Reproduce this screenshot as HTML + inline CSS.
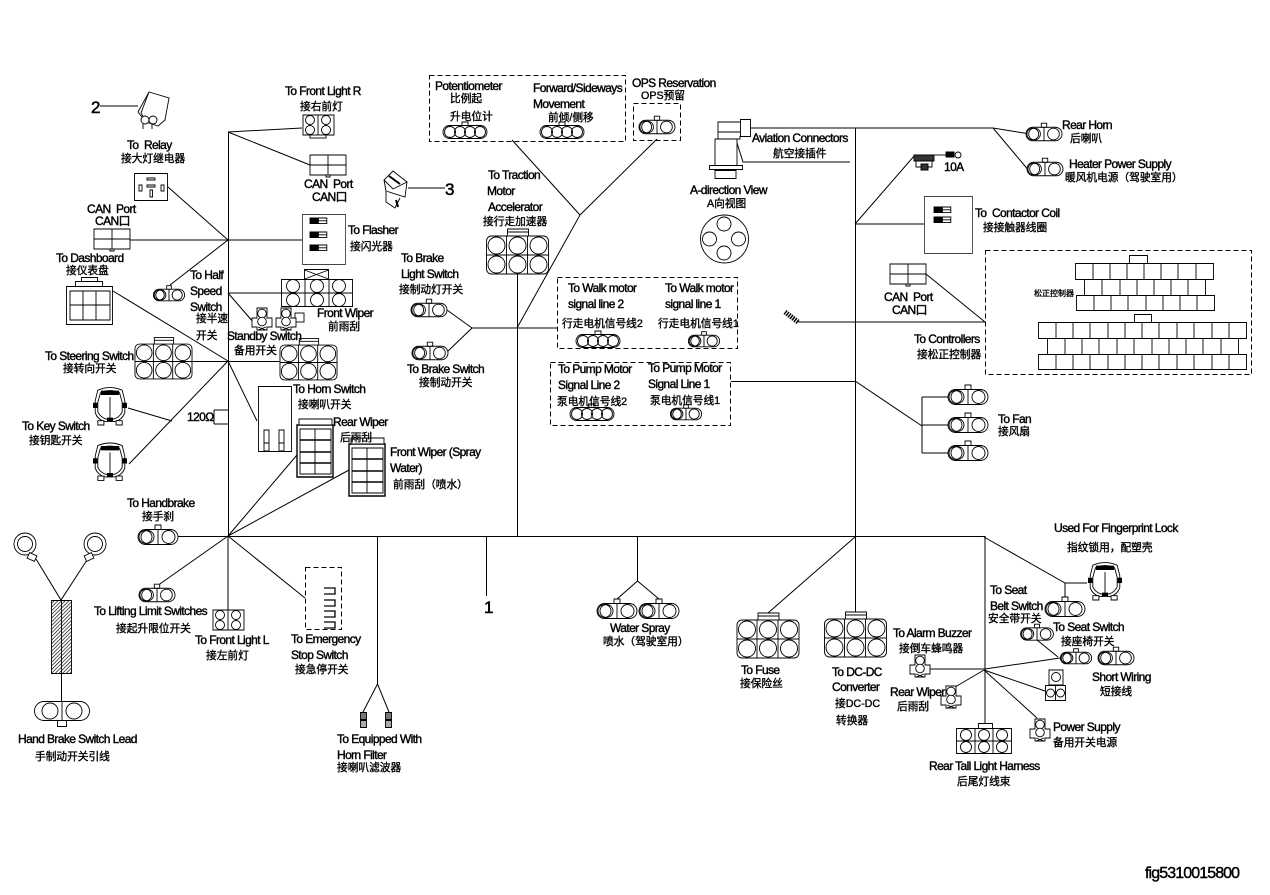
<!DOCTYPE html>
<html><head><meta charset="utf-8"><title>Wiring diagram</title>
<style>
html,body{margin:0;padding:0;background:#fff;width:1270px;height:895px;overflow:hidden}
svg{display:block}
.w{fill:none;stroke:#000;stroke-width:1}
.g line,.g path,.g rect,.g circle,.g polyline{vector-effect:non-scaling-stroke}
.g{fill:#fff;stroke:#000;stroke-width:.9}
.d{fill:none;stroke:#000;stroke-width:1;stroke-dasharray:5 3}
text{font-family:"Liberation Sans","Noto Sans CJK SC",sans-serif;fill:#000;stroke:#000;white-space:pre}
.e{font-size:12px;letter-spacing:-.6px;stroke-width:.4}
.c{font-size:10.7px;letter-spacing:0;stroke-width:.35}
.n{font-size:17px;stroke-width:.5}
</style></head><body>
<svg width="1270" height="895" viewBox="0 0 1270 895" xmlns="http://www.w3.org/2000/svg">
<defs>
<pattern id="h" patternUnits="userSpaceOnUse" width="2.6" height="2.6" patternTransform="rotate(45)"><rect width="2.6" height="2.6" fill="#fff"/><line x1="0" y1="0" x2="0" y2="2.6" stroke="#000" stroke-width="1.3"/></pattern>
<g id="c2" class="g"><rect x="-20" y="-7.5" width="40" height="15" rx="7.5"/><circle cx="-12.5" cy="0" r="6.5" fill="none"/><circle cx="-10.5" cy="0" r="6.5" fill="none"/><circle cx="10.5" cy="0" r="6.5" fill="none"/><line x1="0" y1="-7.5" x2="0" y2="7.5"/><rect x="-3" y="-12" width="6" height="4.5"/></g>
<g id="c4" class="g"><rect x="-22" y="-6.5" width="44" height="13" rx="6.5"/><circle cx="-15" cy="0" r="5.5" fill="none"/><circle cx="-5" cy="0" r="5.5" fill="none"/><circle cx="5" cy="0" r="5.5" fill="none"/><circle cx="15" cy="0" r="5.5" fill="none"/><rect x="-3" y="-10" width="6" height="3.5"/></g>
<g id="c6" class="g"><rect x="-31" y="-19" width="62" height="38" rx="5"/><line x1="-31" y1="0" x2="31" y2="0"/><line x1="-11" y1="-19" x2="-11" y2="19"/><line x1="10" y1="-19" x2="10" y2="19"/><circle cx="-21" cy="-9.5" r="8.5"/><circle cx="0" cy="-9.5" r="8.5"/><circle cx="21" cy="-9.5" r="8.5"/><circle cx="-21" cy="9.5" r="8.5"/><circle cx="0" cy="9.5" r="8.5"/><circle cx="21" cy="9.5" r="8.5"/><rect x="-10" y="-26" width="21" height="7"/><line x1="-10" y1="-23" x2="11" y2="-23"/></g>
<g id="k" class="g"><path d="M-14 -20 Q0 -26 14 -20 L17 -8 L17 6 Q14 14 6 16 L-6 16 Q-14 14 -17 6 L-17 -8 Z"/><path d="M-11 -17 Q0 -22 11 -17 L14 -6 L14 5 Q11 11 5 13 L-5 13 Q-11 11 -14 5 L-14 -6 Z" fill="none"/><rect x="-10" y="-19" width="20" height="4" fill="#000"/><line x1="0" y1="-12" x2="0" y2="14"/><rect x="-19" y="-5" width="4" height="5" fill="#000"/><rect x="15" y="-5" width="4" height="5" fill="#000"/><rect x="-14" y="15" width="7" height="5"/><rect x="7" y="15" width="7" height="5"/><rect x="-3" y="12" width="6" height="3" fill="#000"/></g>
<g id="v2" class="g"><path d="M-5 -11 H5 V-1 H10 V8 H5 V11 H-5 V8 H-10 V-1 H-5 Z"/><circle cx="0" cy="-5.5" r="4.3"/><circle cx="0" cy="2.5" r="4.3"/><path d="M-4 11 L4 8 M4 11 L-4 8"/></g>
<g id="t" class="g"><rect x="0" y="0" width="6" height="4" fill="#000"/><rect x="6" y="0" width="6" height="4"/><line x1="6" y1="2" x2="12" y2="2"/></g>
<g id="q" class="g"><rect x="-15" y="-10" width="31" height="20"/><line x1="0" y1="-10" x2="0" y2="10"/><circle cx="-8" cy="-5" r="4.5"/><circle cx="8" cy="-5" r="4.5"/><circle cx="-8" cy="5" r="4.5"/><circle cx="8" cy="5" r="4.5"/></g>
<g id="can" class="g"><rect x="-18" y="-10" width="36" height="20"/><line x1="-18" y1="0" x2="18" y2="0"/><line x1="0" y1="-10" x2="0" y2="10"/><rect x="-2" y="10" width="4" height="2"/></g>
<g id="wp" class="g"><rect x="-18" y="-26" width="36" height="52" stroke-width="1.4"/><rect x="-15" y="-22" width="31" height="45"/><line x1="0" y1="-22" x2="0" y2="23"/><path d="M-15 -11H16M-15 1H16M-15 12H16" stroke-width="1.4"/><rect x="-16" y="-32" width="33" height="6"/></g>
</defs>

<!-- wires -->
<g class="w">
<path d="M228.5 132V537M178 536.5H985M517.5 274V536M855.5 128V536M750 128H993M985 536V723"/>
<path d="M130 240H302M168 187L228 240M170 285L228 240M228 132L302 128M228 132L310 165"/>
<path d="M228 293H281M228 293L254 323M192 361.5H280M113 291L228 361M228 361L257 421M228 361L129 464M128 408L172 421"/>
<path d="M214 410H228M214 424H228M214 410V424"/>
<path d="M297 455L228 536M349 470L228 536M157 586L228 536M228 536V610M228 536L305 598"/>
<path d="M377.5 536V684L363 712M377.5 684L389 712M486.5 536V596M637.5 536V581L617 599M637.5 581L659 599M855 537L768 613M855.5 536V613"/>
<path d="M447 310L472 328L447 352M472 328H557M517 328L580 215L512 140M580 215L657 139"/>
<path d="M731 381.5H855M855 381L922 426M922 397V453M922 397H948M922 425H948M922 453H948"/>
<path d="M798 322H985M926 274L985 322M855 224H924M855 224L915 155"/>
<path d="M737 143L743 162H850M993 128L1030 134M993 128L1030 172"/>
<path d="M984 537L1065 583H1087M1065 583V597M930 669H985L1060 658M984 670L950 690M984 670L1045 691M984 670L1037 718M1037 640L1058 657"/>
<path d="M100 106H138M408 188H445M36 559L61 600L87 560M61.5 673V705"/>
</g>

<!-- dashed boxes -->
<rect class="d" x="429.5" y="75.5" width="196" height="66"/>
<rect class="d" x="633.5" y="103.5" width="47" height="37"/>
<rect class="d" x="557.5" y="277.5" width="180" height="71"/>
<rect class="d" x="550.5" y="362.5" width="180" height="63"/>
<rect class="d" x="985.5" y="250.5" width="266" height="124"/>
<rect class="d" x="305.5" y="567.5" width="36" height="62"/>

<!-- relay, symbols 2 and 3 -->
<g class="g"><path d="M149 92L169 98L165 120L158 126L146 122L138 112Z"/><path d="M149 92L141 113L146 122"/><circle cx="145" cy="120" r="4"/><circle cx="153" cy="120" r="4"/><path d="M143 124V129M152 124V129"/></g>
<g class="g"><path d="M393 171L407 182L405 197L386 191L384 180Z"/><path d="M384 180L393 189L407 182M386 191V202L395 208L400 198"/><path d="M389 176L400 184M396 200L398 207" stroke-width="2"/></g>
<g class="g"><rect x="134.5" y="173.5" width="33" height="27"/><rect x="147" y="178" width="8" height="2"/><rect x="147" y="185" width="8" height="2"/><rect x="139" y="185" width="3" height="6"/><rect x="161" y="185" width="3" height="6"/><rect x="150" y="190" width="2.5" height="7"/></g>

<use href="#can" x="112" y="239"/>
<use href="#can" x="328" y="165"/>
<use href="#can" x="908" y="274"/>
<use href="#q" x="318" y="125"/><rect class="g" x="310" y="135" width="16" height="3"/>
<use href="#q" x="228" y="620"/>

<!-- flasher -->
<g class="g"><rect x="302.5" y="214.5" width="43" height="50" stroke="#444"/></g>
<use href="#t" transform="translate(310 218) scale(1.4)"/><use href="#t" transform="translate(310 232) scale(1.4)"/><use href="#t" transform="translate(310 245) scale(1.4)"/>
<!-- dashboard -->
<g class="g"><rect x="66.5" y="286.5" width="46" height="38"/><rect x="70" y="291" width="40" height="29"/><path d="M70 305H110M83 291V320M96 291V320"/><rect x="75.5" y="281.5" width="27" height="5"/><rect x="81.5" y="277.5" width="16" height="4"/></g>
<use href="#c2" transform="translate(169 295) scale(.78)"/>
<!-- front wiper 6 -->
<g class="g"><rect x="281.5" y="279.5" width="71" height="27"/><path d="M305 279.5V306.5M329 279.5V306.5M281.5 293H352"/><circle cx="293" cy="286" r="6.5"/><circle cx="293" cy="300" r="6.5"/><circle cx="317" cy="286" r="6.5"/><circle cx="317" cy="300" r="6.5"/><circle cx="339" cy="286" r="6.5"/><circle cx="339" cy="300" r="6.5"/><rect x="304.5" y="269.5" width="24" height="10"/><path d="M304.5 270L328.5 279M328.5 270L304.5 279"/></g>
<rect class="g" x="295" y="313" width="9" height="9"/>
<use href="#v2" x="262" y="319"/><use href="#v2" x="286" y="319"/>
<use href="#c6" transform="translate(163.5 361.5) scale(.92)"/>
<use href="#c6" transform="translate(308.5 362.5) scale(.92)"/>
<use href="#k" transform="translate(110 407.6) scale(.87)"/><use href="#k" transform="translate(110 463) scale(.87)"/>
<!-- horn switch -->
<g class="g"><rect x="258.5" y="386.5" width="33" height="65"/><rect x="264" y="430" width="5" height="21"/><rect x="279" y="430" width="5" height="21"/><path d="M264 443H269M279 443H284"/></g>
<use href="#wp" x="315" y="451"/>
<use href="#wp" x="367" y="470"/>
<use href="#c2" x="158" y="537"/>
<use href="#c2" transform="translate(157 595) scale(.9)"/>
<!-- hand brake -->
<g class="g"><circle cx="25" cy="544" r="11"/><circle cx="25" cy="544" r="7.5"/><circle cx="95" cy="544" r="11"/><circle cx="95" cy="544" r="7.5"/><rect x="28" y="554" width="8" height="6" transform="rotate(25 32 557)"/><rect x="85" y="554" width="8" height="6" transform="rotate(-25 89 557)"/>
<rect x="51.5" y="600.5" width="20" height="73" fill="url(#h)"/><line x1="61.5" y1="600" x2="61.5" y2="673"/>
<rect x="34.5" y="701.5" width="55" height="19" rx="9.5"/><circle cx="50" cy="711" r="8"/><circle cx="74" cy="711" r="8"/><line x1="62" y1="701" x2="62" y2="721"/><rect x="57.5" y="720.5" width="9" height="6"/></g>
<!-- emergency -->
<g class="w"><path d="M324 588H335V594H324M324 600H335V606H324M324 611H335V617H324M324 622H335V628H324" stroke-width="1.3"/></g>
<!-- horn filter terminals -->
<g class="g"><rect x="360.5" y="712.5" width="6" height="7" fill="#777"/><rect x="360.5" y="720.5" width="6" height="7" fill="#aaa"/><rect x="385.5" y="712.5" width="6" height="7" fill="#777"/><rect x="385.5" y="720.5" width="6" height="7" fill="#aaa"/></g>
<!-- top middle -->
<use href="#c4" x="465" y="132"/><use href="#c4" x="562" y="132"/><use href="#c2" transform="translate(657 127) scale(.9)"/>
<use href="#c6" x="517.5" y="255"/>
<use href="#c2" transform="translate(429 310) scale(.9)"/><use href="#c2" transform="translate(430 353) scale(.9)"/>
<use href="#c4" x="598" y="341"/><use href="#c2" transform="translate(704 341) scale(.78)"/>
<use href="#c4" x="592" y="414"/><use href="#c2" transform="translate(686 414) scale(.78)"/>
<!-- aviation -->
<g class="g"><rect x="740.5" y="119.5" width="10" height="17"/><path d="M740 122H718V139H740V136"/><path d="M718 132H740"/><path d="M715 139H737V167H715Z"/><rect x="709.5" y="165.5" width="33" height="4"/><rect x="715" y="170.5" width="21" height="8"/><circle cx="724.5" cy="239" r="24"/><circle cx="724" cy="224" r="7"/><circle cx="709.5" cy="239" r="7"/><circle cx="738.5" cy="239" r="7"/><circle cx="724" cy="253" r="7"/></g>
<!-- right top -->
<use href="#c2" transform="translate(1044 134) scale(.9)"/><use href="#c2" transform="translate(1045 169) scale(.9)"/>
<g class="g"><rect x="914" y="155" width="20" height="6" fill="#333"/><rect x="916" y="161" width="16" height="6"/><rect x="921" y="164" width="7" height="6" fill="#333"/><line x1="934" y1="155" x2="946" y2="155"/><rect x="946" y="152" width="8" height="5" fill="#000"/><circle cx="958" cy="155" r="3"/></g>
<g class="g"><rect x="924.5" y="196.5" width="48" height="57" stroke="#444"/></g>
<use href="#t" transform="translate(934 207) scale(1.4)"/><use href="#t" transform="translate(934 217) scale(1.4)"/>
<!-- controllers -->
<g class="g">
<rect x="1129.5" y="255.5" width="18" height="8"/><rect x="1134.5" y="314.5" width="17" height="8"/>
<rect x="1075.5" y="263.5" width="138" height="16"/><path d="M1093 263V279M1110 263V279M1127 263V279M1144 263V279M1161 263V279M1178 263V279M1196 263V279"/>
<rect x="1084.5" y="279.5" width="121" height="16"/><path d="M1102 279V295M1120 279V295M1137 279V295M1154 279V295M1171 279V295M1188 279V295"/>
<rect x="1076.5" y="295.5" width="138" height="15"/><path d="M1094 295V310M1111 295V310M1128 295V310M1146 295V310M1163 295V310M1180 295V310M1197 295V310"/>
<rect x="1038.5" y="322.5" width="208" height="16"/><path d="M1056 322V338M1073 322V338M1090 322V338M1108 322V338M1125 322V338M1142 322V338M1159 322V338M1177 322V338M1194 322V338M1212 322V338M1229 322V338"/>
<rect x="1047.5" y="338.5" width="191" height="16"/><path d="M1065 338V354M1082 338V354M1099 338V354M1117 338V354M1134 338V354M1152 338V354M1169 338V354M1186 338V354M1203 338V354M1221 338V354"/>
<rect x="1038.5" y="354.5" width="208" height="15"/><path d="M1056 354V369M1073 354V369M1090 354V369M1108 354V369M1125 354V369M1142 354V369M1159 354V369M1177 354V369M1194 354V369M1212 354V369M1229 354V369"/>
</g>
<use href="#c2" x="968" y="397"/><use href="#c2" x="968" y="425"/><use href="#c2" x="968" y="453"/>
<!-- bottom middle -->
<use href="#c2" x="617" y="611"/><use href="#c2" x="659" y="611"/>
<use href="#c6" x="768" y="639"/><use href="#c6" x="855.5" y="638"/>
<!-- bottom right -->
<use href="#k" transform="translate(1105 582.6) scale(.87)"/>
<use href="#c2" x="1065" y="609"/><use href="#c2" transform="translate(1037 634) scale(.82)"/>
<use href="#c2" transform="translate(1076 658) scale(.78)"/><use href="#c2" transform="translate(1116 658) scale(.9)"/>
<use href="#v2" x="920" y="666"/><use href="#v2" x="951" y="697"/><use href="#v2" x="1040" y="730"/>
<g class="g"><rect x="1045.5" y="685.5" width="20" height="15"/><line x1="1055.5" y1="685" x2="1055.5" y2="700"/><circle cx="1050.5" cy="693" r="4"/><circle cx="1060.5" cy="693" r="4"/><rect x="1049" y="670" width="14" height="15"/><circle cx="1056" cy="677" r="4.5"/></g>
<g class="g"><rect x="956.5" y="728.5" width="55" height="25"/><path d="M975 728V753M993 728V753M956 741H1011"/><circle cx="966" cy="735" r="5.5"/><circle cx="984" cy="735" r="5.5"/><circle cx="1002" cy="735" r="5.5"/><circle cx="966" cy="747" r="5.5"/><circle cx="984" cy="747" r="5.5"/><circle cx="1002" cy="747" r="5.5"/><rect x="978.5" y="723.5" width="14" height="5"/></g>
<g class="w"><path d="M798 322L785 312" stroke-width="5" stroke-dasharray="1.5 1"/></g>

<!-- labels -->
<text class="n" x="91" y="113">2</text>
<text class="n" x="445" y="195">3</text>
<text class="n" x="484" y="613">1</text>
<text class="e" x="127" y="149">To  Relay</text><text class="c" x="121" y="162">接大灯继电器</text>
<text class="e" x="87" y="213">CAN  Port</text><text class="e" x="95" y="225">CAN口</text>
<text class="e" x="56" y="262">To Dashboard</text><text class="c" x="66" y="274">接仪表盘</text>
<text class="e" x="190" y="279">To Half</text><text class="e" x="190" y="295">Speed</text><text class="e" x="190" y="311">Switch</text><text class="c" x="196" y="322">接半速</text><text class="c" x="196" y="339">开关</text>
<text class="e" x="227" y="340">Standby Switch</text><text class="c" x="234" y="354">备用开关</text>
<text class="e" x="45" y="360">To Steering Switch</text><text class="c" x="63" y="372">接转向开关</text>
<text class="e" x="317" y="317">Front Wiper</text><text class="c" x="328" y="330">前雨刮</text>
<text class="e" x="285" y="95">To Front Light R</text><text class="c" x="300" y="110">接右前灯</text>
<text class="e" x="304" y="188">CAN  Port</text><text class="e" x="312" y="201">CAN口</text>
<text class="e" x="348" y="234">To Flasher</text><text class="c" x="350" y="250">接闪光器</text>
<text class="e" x="293" y="393">To Horn Switch</text><text class="c" x="298" y="408">接喇叭开关</text>
<text class="e" x="187" y="421">120Ω</text>
<text class="e" x="333" y="426">Rear Wiper</text><text class="c" x="340" y="441">后雨刮</text>
<text class="e" x="390" y="456">Front Wiper (Spray</text><text class="e" x="390" y="472">Water)</text><text class="c" x="393" y="488">前雨刮（喷水）</text>
<text class="e" x="22" y="430">To Key Switch</text><text class="c" x="29" y="444">接钥匙开关</text>
<text class="e" x="127" y="507">To Handbrake</text><text class="c" x="142" y="520">接手刹</text>
<text class="e" x="94" y="615">To Lifting Limit Switches</text><text class="c" x="116" y="632">接起升限位开关</text>
<text class="e" x="195" y="644">To Front Light L</text><text class="c" x="206" y="659">接左前灯</text>
<text class="e" x="291" y="643">To Emergency</text><text class="e" x="291" y="659">Stop Switch</text><text class="c" x="295" y="673">接急停开关</text>
<text class="e" x="337" y="743">To Equipped With</text><text class="e" x="337" y="759">Horn Filter</text><text class="c" x="337" y="771">接喇叭滤波器</text>
<text class="e" x="18" y="743">Hand Brake Switch Lead</text><text class="c" x="35" y="760">手制动开关引线</text>
<text class="e" x="435" y="90">Potentiometer</text><text class="c" x="450" y="102">比例起</text><text class="c" x="450" y="120">升电位计</text>
<text class="e" x="533" y="92">Forward/Sideways</text><text class="e" x="533" y="108">Movement</text><text class="c" x="548" y="121">前倾/侧移</text>
<text class="e" x="632" y="87">OPS Reservation</text><text class="c" x="641" y="99">OPS预留</text>
<text class="e" x="752" y="142">Aviation Connectors</text><text class="c" x="773" y="157">航空接插件</text>
<text class="e" x="690" y="194">A-direction View</text><text class="c" x="707" y="207">A向视图</text>
<text class="e" x="488" y="179">To Traction</text><text class="e" x="487" y="195">Motor</text><text class="e" x="488" y="211">Accelerator</text><text class="c" x="483" y="225">接行走加速器</text>
<text class="e" x="401" y="262">To Brake</text><text class="e" x="401" y="278">Light Switch</text><text class="c" x="399" y="293">接制动灯开关</text>
<text class="e" x="407" y="373">To Brake Switch</text><text class="c" x="419" y="386">接制动开关</text>
<text class="e" x="568" y="292">To Walk motor</text><text class="e" x="568" y="308">signal line 2</text><text class="c" x="562" y="327">行走电机信号线2</text>
<text class="e" x="665" y="292">To Walk motor</text><text class="e" x="665" y="308">signal line 1</text><text class="c" x="658" y="327">行走电机信号线1</text>
<text class="e" x="558" y="373">To Pump Motor</text><text class="e" x="558" y="389">Signal Line 2</text><text class="c" x="557" y="405">泵电机信号线2</text>
<text class="e" x="648" y="372">To Pump Motor</text><text class="e" x="648" y="388">Signal Line 1</text><text class="c" x="650" y="404">泵电机信号线1</text>
<text class="e" x="1062" y="129">Rear Horn</text><text class="c" x="1070" y="142">后喇叭</text>
<text class="e" x="1069" y="168">Heater Power Supply</text><text class="c" x="1065" y="181">暖风机电源（驾驶室用）</text>
<text class="e" x="944" y="171">10A</text>
<text class="e" x="975" y="217">To  Contactor Coil</text><text class="c" x="983" y="231">接接触器线圈</text>
<text class="e" x="884" y="301">CAN  Port</text><text class="e" x="892" y="314">CAN口</text>
<text class="e" x="914" y="343">To Controllers</text><text class="c" x="917" y="358">接松正控制器</text>
<text x="1034" y="296" style="font-size:8px;stroke-width:.3">松正控制器</text>
<text class="e" x="998" y="423">To Fan</text><text class="c" x="998" y="435">接风扇</text>
<text class="e" x="1054" y="532">Used For Fingerprint Lock</text><text class="c" x="1067" y="551">指纹锁用，配塑壳</text>
<text class="e" x="990" y="594">To Seat</text><text class="e" x="990" y="610">Belt Switch</text><text class="c" x="988" y="622">安全带开关</text>
<text class="e" x="1053" y="631">To Seat Switch</text><text class="c" x="1061" y="645">接座椅开关</text>
<text class="e" x="1092" y="681">Short Wiring</text><text class="c" x="1100" y="695">短接线</text>
<text class="e" x="893" y="637">To Alarm Buzzer</text><text class="c" x="899" y="652">接倒车蜂鸣器</text>
<text class="e" x="890" y="696">Rear Wiper</text><text class="c" x="897" y="710">后雨刮</text>
<text class="e" x="1053" y="731">Power Supply</text><text class="c" x="1053" y="746">备用开关电源</text>
<text class="e" x="929" y="770">Rear Tall Light Harness</text><text class="c" x="957" y="785">后尾灯线束</text>
<text class="e" x="610" y="632">Water Spray</text><text class="c" x="603" y="645">喷水（驾驶室用）</text>
<text class="e" x="741" y="674">To Fuse</text><text class="c" x="740" y="687">接保险丝</text>
<text class="e" x="832" y="676">To DC-DC</text><text class="e" x="832" y="691">Converter</text><text class="c" x="835" y="707">接DC-DC</text><text class="c" x="836" y="724">转换器</text>
<text x="1145" y="878" style="font-size:16px;letter-spacing:-.9px;stroke-width:.4">fig5310015800</text>
</svg>
</body></html>
